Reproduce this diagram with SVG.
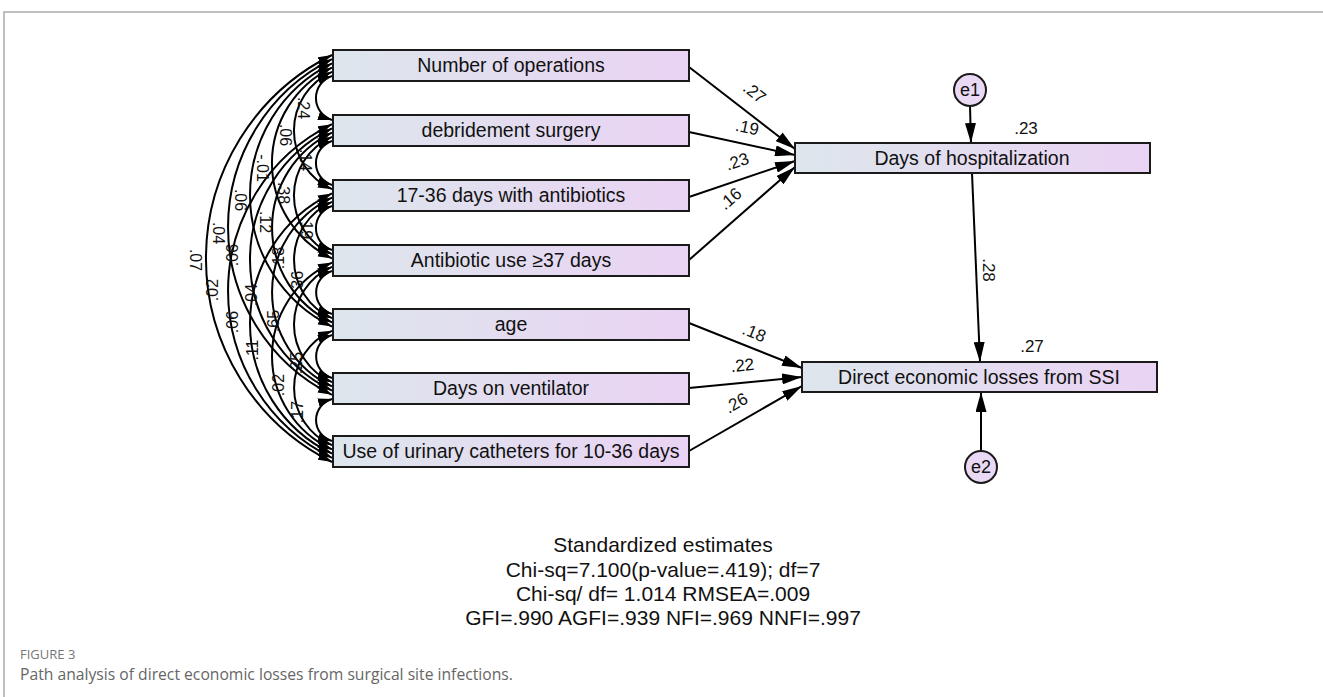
<svg xmlns="http://www.w3.org/2000/svg" width="1323" height="697" viewBox="0 0 1323 697">
<style>
.box{stroke:#1a1a1a;stroke-width:2;fill:url(#boxg)}
.ell{stroke:#1a1a1a;stroke-width:2;fill:#ead9f4}
.bt{font-family:"Liberation Sans",Arial,sans-serif;font-size:19.5px;fill:#111;text-anchor:middle}
.et{font-family:"Liberation Sans",Arial,sans-serif;font-size:18px;fill:#111;text-anchor:middle}
.cv{fill:none;stroke:#000;stroke-width:2;marker-start:url(#ac);marker-end:url(#ac)}
.pa{fill:none;stroke:#000;stroke-width:2;marker-end:url(#ap)}
.lb{font-family:"Liberation Sans",Arial,sans-serif;font-size:16px;fill:#111;text-anchor:middle}
.pl{font-family:"Liberation Sans",Arial,sans-serif;font-size:17px;fill:#111;text-anchor:middle}
.st{font-family:"Liberation Sans",Arial,sans-serif;font-size:21px;fill:#111;text-anchor:middle}
.cap1{font-family:"Open Sans","Noto Sans",sans-serif;font-size:13px;fill:#777}
.cap2{font-family:"Open Sans","Noto Sans",sans-serif;font-size:15.7px;fill:#666}
</style>
<defs>
<linearGradient id="boxg" x1="0" y1="0" x2="1" y2="0">
<stop offset="0" stop-color="#dde6ec"/>
<stop offset="1" stop-color="#ead3f4"/>
</linearGradient>
<marker id="ac" markerUnits="userSpaceOnUse" markerWidth="14" markerHeight="9" refX="14" refY="4.5" orient="auto-start-reverse" viewBox="0 0 14 9"><path d="M0,0 L14,4.5 L0,9 z" fill="#000"/></marker>
<marker id="ap" markerUnits="userSpaceOnUse" markerWidth="20" markerHeight="11" refX="20" refY="5.5" orient="auto" viewBox="0 0 20 11"><path d="M0,0 L20,5.5 L0,11 z" fill="#000"/></marker>
</defs>
<rect x="0" y="0" width="1323" height="697" fill="#fff"/>
<path d="M4,697 V12 H1323" fill="none" stroke="#aaa" stroke-width="1.5"/>

<g id="connectors">
<path class="cv" d="M332,76 A23.1,23.1 0 0 0 332,120"/>
<path class="cv" d="M332,141 A23.1,23.1 0 0 0 332,185"/>
<path class="cv" d="M332,206 A23.1,23.1 0 0 0 332,250"/>
<path class="cv" d="M332,271 A22.5,22.5 0 0 0 332,314"/>
<path class="cv" d="M332,335 A22.5,22.5 0 0 0 332,378"/>
<path class="cv" d="M332,399 A21.8,21.8 0 0 0 332,441"/>
<path class="cv" d="M332,71.8 A64.3,64.3 0 0 0 332,189.2"/>
<path class="cv" d="M332,136.8 A64.3,64.3 0 0 0 332,254.2"/>
<path class="cv" d="M332,201.8 A63.6,63.6 0 0 0 332,318.2"/>
<path class="cv" d="M332,266.8 A62.8,62.8 0 0 0 332,382.2"/>
<path class="cv" d="M332,330.8 A62.1,62.1 0 0 0 332,445.2"/>
<path class="cv" d="M332,67.6 A105.8,105.8 0 0 0 332,258.4"/>
<path class="cv" d="M332,132.6 A105.1,105.1 0 0 0 332,322.4"/>
<path class="cv" d="M332,197.6 A104.3,104.3 0 0 0 332,386.4"/>
<path class="cv" d="M332,262.6 A102.7,102.7 0 0 0 332,449.4"/>
<path class="cv" d="M332,63.4 A146.6,146.6 0 0 0 332,326.6"/>
<path class="cv" d="M332,128.4 A145.8,145.8 0 0 0 332,390.6"/>
<path class="cv" d="M332,193.4 A144.2,144.2 0 0 0 332,453.6"/>
<path class="cv" d="M332,59.2 A187.4,187.4 0 0 0 332,394.8"/>
<path class="cv" d="M332,124.2 A185.8,185.8 0 0 0 332,457.8"/>
<path class="cv" d="M332,55 A227.3,227.3 0 0 0 332,462"/>

<path class="pa" d="M689,67 L795,149"/>
<path class="pa" d="M689,132 L795,155"/>
<path class="pa" d="M689,197 L795,161"/>
<path class="pa" d="M689,260 L795,167"/>
<path class="pa" d="M689,323 L802,368"/>
<path class="pa" d="M689,388 L802,377"/>
<path class="pa" d="M689,451 L802,386"/>
<path class="pa" d="M970,106 L971,143"/>
<path class="pa" d="M972,173 L980,362"/>
<path class="pa" d="M981,451 L981,392"/>

<text class="lb" transform="translate(298,108) rotate(90)">.24</text>
<text class="lb" transform="translate(300,160) rotate(90)">.14</text>
<text class="lb" transform="translate(301,228) rotate(90)">.19</text>
<text class="lb" transform="translate(303,282) rotate(-90)">.36</text>
<text class="lb" transform="translate(302,363) rotate(-90)">.25</text>
<text class="lb" transform="translate(303,412) rotate(-90)">.17</text>
<text class="lb" transform="translate(280,135) rotate(90)">.06</text>
<text class="lb" transform="translate(278,193) rotate(90)">.38</text>
<text class="lb" transform="translate(284,258) rotate(-90)">.18</text>
<text class="lb" transform="translate(279,321) rotate(-90)">.65</text>
<text class="lb" transform="translate(284,385) rotate(-90)">.02</text>
<text class="lb" transform="translate(257,168) rotate(90)">-.01</text>
<text class="lb" transform="translate(260,222) rotate(90)">.12</text>
<text class="lb" transform="translate(257,295) rotate(-90)">.04</text>
<text class="lb" transform="translate(258,350) rotate(-90)">.11</text>
<text class="lb" transform="translate(235,200) rotate(90)">.06</text>
<text class="lb" transform="translate(238,255) rotate(-90)">.06</text>
<text class="lb" transform="translate(238,322) rotate(-90)">.06</text>
<text class="lb" transform="translate(213,233) rotate(90)">.04</text>
<text class="lb" transform="translate(218,290) rotate(-90)">.02</text>
<text class="lb" transform="translate(190,260) rotate(90)">.07</text>

<text class="pl" transform="translate(751,97) rotate(38)">.27</text>
<text class="pl" transform="translate(746,133) rotate(12)">.19</text>
<text class="pl" transform="translate(739,167) rotate(-19)">.23</text>
<text class="pl" transform="translate(734,203) rotate(-41)">.16</text>
<text class="pl" transform="translate(752,338) rotate(22)">.18</text>
<text class="pl" transform="translate(743,371) rotate(-6)">.22</text>
<text class="pl" transform="translate(739,408) rotate(-30)">.26</text>
<text class="pl" transform="translate(983,270) rotate(90)">.28</text>
</g>

<g id="n1"><rect class="box" x="333" y="50" width="356" height="31"/><text class="bt" x="511" y="72">Number of operations</text></g>
<g id="n2"><rect class="box" x="333" y="115" width="356" height="31"/><text class="bt" x="511" y="137">debridement surgery</text></g>
<g id="n3"><rect class="box" x="333" y="180" width="356" height="31"/><text class="bt" x="511" y="202">17-36 days with antibiotics</text></g>
<g id="n4"><rect class="box" x="333" y="245" width="356" height="31"/><text class="bt" x="511" y="267">Antibiotic use ≥37 days</text></g>
<g id="n5"><rect class="box" x="333" y="309" width="356" height="31"/><text class="bt" x="511" y="331">age</text></g>
<g id="n6"><rect class="box" x="333" y="373" width="356" height="31"/><text class="bt" x="511" y="395">Days on ventilator</text></g>
<g id="n7"><rect class="box" x="333" y="436" width="356" height="31"/><text class="bt" x="511" y="458">Use of urinary catheters for 10-36 days</text></g>
<g id="hosp"><rect class="box" x="795" y="143" width="355" height="30"/><text class="bt" x="972" y="165">Days of hospitalization</text><text class="pl" x="1026" y="134">.23</text></g>
<g id="loss"><rect class="box" x="802" y="362" width="355" height="30"/><text class="bt" x="979" y="384">Direct economic losses from SSI</text><text class="pl" x="1032" y="352">.27</text></g>
<g id="e1"><circle class="ell" cx="970" cy="90" r="16"/><text class="et" x="970" y="96">e1</text></g>
<g id="e2"><circle class="ell" cx="981" cy="467" r="16"/><text class="et" x="981" y="473">e2</text></g>

<g id="stats">
<text class="st" x="663" y="552">Standardized estimates</text>
<text class="st" x="663" y="577">Chi-sq=7.100(p-value=.419); df=7</text>
<text class="st" x="663" y="601">Chi-sq/ df= 1.014 RMSEA=.009</text>
<text class="st" x="663" y="625">GFI=.990 AGFI=.939 NFI=.969 NNFI=.997</text>
</g>
<g id="caption">
<text class="cap1" x="20" y="659">FIGURE 3</text>
<text class="cap2" x="20" y="680">Path analysis of direct economic losses from surgical site infections.</text>
</g>
</svg>
